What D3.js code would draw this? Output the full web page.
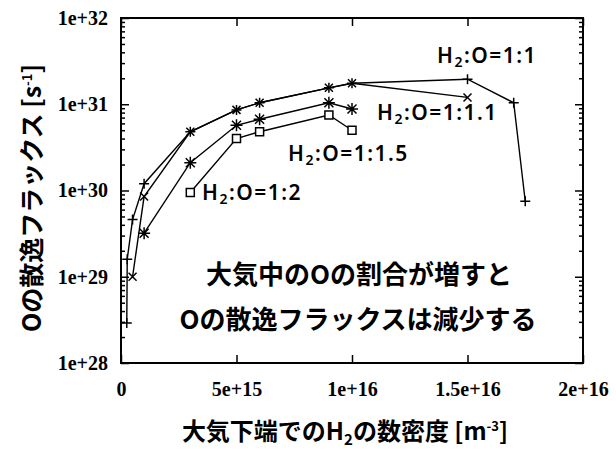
<!DOCTYPE html>
<html>
<head>
<meta charset="utf-8">
<script src="https://cdn.jsdelivr.net/npm/d3@7"></script>
<style>
  body { margin: 0; background: #fff; }
  svg { display: block; }
</style>
</head>
<body>
<script>
// H2 number density at the bottom of the atmosphere [m^-3] and O escape flux [s^-1]
const ratio11X = [2.5e14, 2.7e14, 5e14, 1e15, 3e15, 5e15, 6e15, 9e15, 1e16, 1.5e16, 1.7e16, 1.75e16];
const ratio11Y = [2.9e28, 1.6e29, 4.6e29, 1.2e30, 4.8e30, 8.6e30, 1.04e31, 1.55e31, 1.75e31, 1.95e31, 1.04e31, 7.5e29];

const ratio111X = [5e14, 1e15, 3e15, 5e15, 6e15, 9e15, 1e16, 1.5e16];
const ratio111Y = [1e29, 8.5e29, 4.8e30, 8.6e30, 1.04e31, 1.55e31, 1.75e31, 1.2e31];

const ratio115X = [1e15, 3e15, 5e15, 6e15, 9e15, 1e16];
const ratio115Y = [3.2e29, 2.1e30, 5.7e30, 6.7e30, 1.04e31, 8.8e30];

const ratio12X = [3e15, 5e15, 6e15, 9e15, 1e16];
const ratio12Y = [9.5e29, 4e30, 4.8e30, 7.5e30, 5e30];

const xTicks = [0, 5e15, 1e16, 1.5e16, 2e16];
const xTickLabels = ['0', '5e+15', '1e+16', '1.5e+16', '2e+16'];
const yTicks = [1e28, 1e29, 1e30, 1e31, 1e32];
const yTickLabels = ['1e+28', '1e+29', '1e+30', '1e+31', '1e+32'];

const width = 616;
const height = 451;
const margin = {top: 18, right: 33, bottom: 88, left: 121};

const x = d3.scaleLinear().domain([0, 2e16]).range([margin.left, width - margin.right]);
const y = d3.scaleLog().domain([1e28, 1e32]).range([height - margin.bottom, margin.top]);

const svg = d3.select('body').append('svg')
  .attr('width', width)
  .attr('height', height);

// minor log ticks 2..9 per decade
const minorTicks = [];
for (let e = 28; e < 32; e++) {
  for (let m = 2; m <= 9; m++) minorTicks.push(m * Math.pow(10, e));
}

const serif = '"Liberation Serif", "Times New Roman", serif';
const gothic = '"Noto Sans CJK JP", "Noto Sans", sans-serif';

function styleAxis(g) {
  g.select('.domain').remove();
  g.selectAll('.tick line').attr('stroke', '#000').attr('stroke-width', 1.5);
  g.selectAll('.tick text')
    .attr('fill', '#000')
    .style('font-family', serif)
    .style('font-size', '20px')
    .style('font-weight', 'bold');
}

svg.append('g')
  .attr('transform', `translate(${margin.left},0)`)
  .call(d3.axisLeft(y).tickValues(yTicks).tickSize(-8).tickPadding(13)
    .tickFormat((d, i) => yTickLabels[i]))
  .call(styleAxis);

svg.append('g')
  .attr('transform', `translate(${margin.left},0)`)
  .call(d3.axisLeft(y).tickValues(minorTicks).tickSize(-4).tickFormat(''))
  .call(styleAxis);

svg.append('g')
  .attr('transform', `translate(${width - margin.right},0)`)
  .call(d3.axisRight(y).tickValues(yTicks).tickSize(-8).tickFormat(''))
  .call(styleAxis);

svg.append('g')
  .attr('transform', `translate(${width - margin.right},0)`)
  .call(d3.axisRight(y).tickValues(minorTicks).tickSize(-4).tickFormat(''))
  .call(styleAxis);

svg.append('g')
  .attr('transform', `translate(0,${height - margin.bottom})`)
  .call(d3.axisBottom(x).tickValues(xTicks).tickSize(-8).tickPadding(19)
    .tickFormat((d, i) => xTickLabels[i]))
  .call(styleAxis);

svg.append('g')
  .attr('transform', `translate(0,${margin.top})`)
  .call(d3.axisTop(x).tickValues(xTicks).tickSize(-8).tickFormat(''))
  .call(styleAxis);

svg.append('rect')
  .attr('x', margin.left)
  .attr('y', margin.top)
  .attr('width', width - margin.left - margin.right)
  .attr('height', height - margin.top - margin.bottom)
  .attr('fill', 'none')
  .attr('stroke', '#000')
  .attr('stroke-width', 2);

// series
const markers = {
  plus: 'M-5,0H5M0,-5V5',
  cross: 'M-4,-4L4,4M-4,4L4,-4',
  star: 'M-6,0H6M0,-6V6M-4.5,-4.5L4.5,4.5M-4.5,4.5L4.5,-4.5',
  square: 'M-4,-4H4V4H-4Z'
};

const series = [
  {xs: ratio11X, ys: ratio11Y, marker: 'plus'},
  {xs: ratio111X, ys: ratio111Y, marker: 'cross'},
  {xs: ratio115X, ys: ratio115Y, marker: 'star'},
  {xs: ratio12X, ys: ratio12Y, marker: 'square'}
];

const line = d3.line().x(d => x(d[0])).y(d => y(d[1]));

series.forEach(s => {
  const pts = s.xs.map((v, i) => [v, s.ys[i]]);
  svg.append('path')
    .datum(pts)
    .attr('d', line)
    .attr('fill', 'none')
    .attr('stroke', '#000')
    .attr('stroke-width', 1.4);

  svg.append('g').selectAll('path')
    .data(pts)
    .join('path')
      .attr('transform', d => `translate(${x(d[0])},${y(d[1])})`)
      .attr('d', markers[s.marker])
      .attr('fill', s.marker === 'square' ? '#fff' : 'none')
      .attr('stroke', '#000')
      .attr('stroke-width', 1.5);
});

// series labels
const labels = [
  {text: '1:1', x: 437, y: 55},
  {text: '1:1.1', x: 377, y: 112},
  {text: '1:1.5', x: 288, y: 153},
  {text: '1:2', x: 202, y: 192}
];

labels.forEach(l => {
  const t = svg.append('text')
    .attr('x', l.x)
    .attr('y', l.y)
    .attr('dy', '0.36em')
    .style('font-family', '"Noto Sans", sans-serif')
    .style('font-size', '21px')
    .style('font-weight', 600)
    .style('letter-spacing', '1.5px');
  t.append('tspan').text('H');
  t.append('tspan').attr('font-size', '14px').attr('dy', 4).text('2');
  t.append('tspan').attr('dy', -4).text(':O=' + l.text);
});

// annotation
svg.append('text')
  .attr('x', 359)
  .attr('y', 275)
  .attr('dy', '0.36em')
  .attr('text-anchor', 'middle')
  .style('font-family', gothic)
  .style('font-size', '26px')
  .style('font-weight', 'bold')
  .text('大気中のOの割合が増すと');

svg.append('text')
  .attr('x', 358)
  .attr('y', 320)
  .attr('dy', '0.36em')
  .attr('text-anchor', 'middle')
  .style('font-family', gothic)
  .style('font-size', '26px')
  .style('font-weight', 'bold')
  .text('Oの散逸フラックスは減少する');

// axis titles
const xTitle = svg.append('text')
  .attr('x', 345)
  .attr('y', 431)
  .attr('dy', '0.36em')
  .attr('text-anchor', 'middle')
  .style('font-family', gothic)
  .style('font-size', '24px')
  .style('font-weight', 'bold');
xTitle.append('tspan').text('大気下端でのH');
xTitle.append('tspan').attr('font-size', '15px').attr('dy', 5).text('2');
xTitle.append('tspan').attr('dy', -5).text('の数密度 [m');
xTitle.append('tspan').attr('font-size', '13px').attr('dy', -9).text('-3');
xTitle.append('tspan').attr('dy', 9).text(']');

const yTitle = svg.append('text')
  .attr('transform', 'translate(32,198) rotate(-90)')
  .attr('dy', '0.36em')
  .attr('text-anchor', 'middle')
  .style('font-family', gothic)
  .style('font-size', '25px')
  .style('font-weight', 'bold');
yTitle.append('tspan').text('Oの散逸フラックス [s');
yTitle.append('tspan').attr('font-size', '13px').attr('dy', -9).text('-1');
yTitle.append('tspan').attr('dy', 9).text(']');
</script>
</body>
</html>
